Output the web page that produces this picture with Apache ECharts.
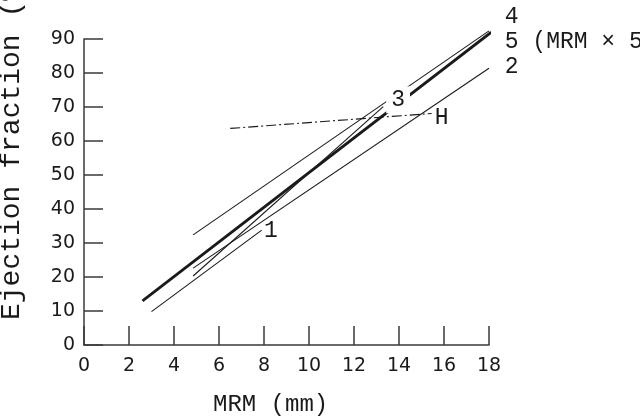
<!DOCTYPE html>
<html><head><meta charset="utf-8">
<script src="https://cdn.jsdelivr.net/npm/echarts@6/dist/echarts.min.js"></script>
<style>html,body{margin:0;padding:0;background:#fff}#c{width:640px;height:417px}</style>
</head><body><div id="c"></div>
<script>
// Regression lines: [x (MRM, mm), y (EF, %)] endpoints
const line1 = [[3.0, 9.8], [7.9, 33.8]];
const line2 = [[4.85, 22.6], [18.0, 81.4]];
const line3 = [[4.85, 20.3], [13.3, 70.1]];
const line4 = [[4.85, 32.4], [18.0, 92.4]];
const line5 = [[2.6, 13.0], [18.1, 92.0]];   // EF = MRM x 5
const lineH = [[6.5, 63.7], [15.45, 68.1]];

// Line labels
const labelTexts = ['1', '2', '3', '4', '5 (MRM × 5)', 'H'];
const labelX = [8.31, 18.7, 13.96, 18.7, 18.7, 15.9];
const labelY = [33.7, 81.9, 72.1, 96.6, 89.2, 66.7];

// Axes
const xTicks = [0, 2, 4, 6, 8, 10, 12, 14, 16, 18];
const yTicks = [0, 10, 20, 30, 40, 50, 60, 70, 80, 90];
const xTitle = 'MRM (mm)';
const yTitle = 'Ejection fraction (%)';

const ink = '#1a1a1a';
const axisCol = '#3a3a3a';
const mono = 'Liberation Mono';

function lineSeries(name, data, width, type) {
  return {
    name, type: 'line', data, symbol: 'none', clip: false, silent: true,
    lineStyle: { color: ink, width: width, type: type || 'solid' }, z: 3
  };
}

const labelData = labelTexts.map((t, i) => {
  const item = {
    value: [labelX[i], labelY[i]],
    label: {
      show: true, formatter: t, position: 'inside',
      align: labelX[i] >= 18 ? 'left' : 'center', verticalAlign: 'middle',
      fontFamily: mono, fontSize: 23, color: ink, opacity: 1, textBorderWidth: 0
    }
  };
  if (t === '3') {
    item.label.backgroundColor = '#fff';
    item.label.padding = [2, 5];
  }
  return item;
});

const chart = echarts.init(document.getElementById('c'), null, { renderer: 'canvas' });
chart.setOption({
  animation: false,
  backgroundColor: '#fff',
  grid: { left: 84, right: 151, top: 39, bottom: 72, containLabel: false },
  xAxis: {
    type: 'value', min: xTicks[0], max: xTicks[xTicks.length - 1], interval: 2,
    axisLine: { show: true, lineStyle: { color: axisCol, width: 1.5 } },
    axisTick: { show: true, inside: true, length: 19, lineStyle: { color: axisCol, width: 1.5 } },
    axisLabel: { color: ink, fontFamily: 'DejaVu Sans', fontSize: 19, margin: 12 },
    splitLine: { show: false }
  },
  yAxis: {
    type: 'value', min: yTicks[0], max: yTicks[yTicks.length - 1], interval: 10,
    axisLine: { show: true, lineStyle: { color: axisCol, width: 1.5 } },
    axisTick: { show: true, inside: true, length: 19, lineStyle: { color: axisCol, width: 1.5 } },
    axisLabel: { color: ink, fontFamily: 'DejaVu Sans', fontSize: 19, margin: 9 },
    splitLine: { show: false }
  },
  graphic: [
    { type: 'text', x: 213, y: 405,
      style: { text: xTitle, fontFamily: mono, fontSize: 24, fill: ink, textAlign: 'left', textVerticalAlign: 'middle' } },
    { type: 'text', x: 12, y: 320, rotation: Math.PI / 2,
      style: { text: yTitle, fontFamily: mono, fontSize: 28, fill: ink, textAlign: 'left', textVerticalAlign: 'middle' } }
  ],
  series: [
    lineSeries('1', line1, 1.1),
    lineSeries('2', line2, 1.1),
    lineSeries('3', line3, 1.1),
    lineSeries('4', line4, 1.1),
    lineSeries('5', line5, 2.8),
    lineSeries('H', lineH, 1.1, [10, 3, 2, 3]),
    {
      name: 'labels', type: 'scatter', data: labelData, symbolSize: 1, clip: false,
      silent: true, z: 10, itemStyle: { color: 'rgba(0,0,0,0)', opacity: 1 }
    }
  ]
});
</script>
</body></html>
